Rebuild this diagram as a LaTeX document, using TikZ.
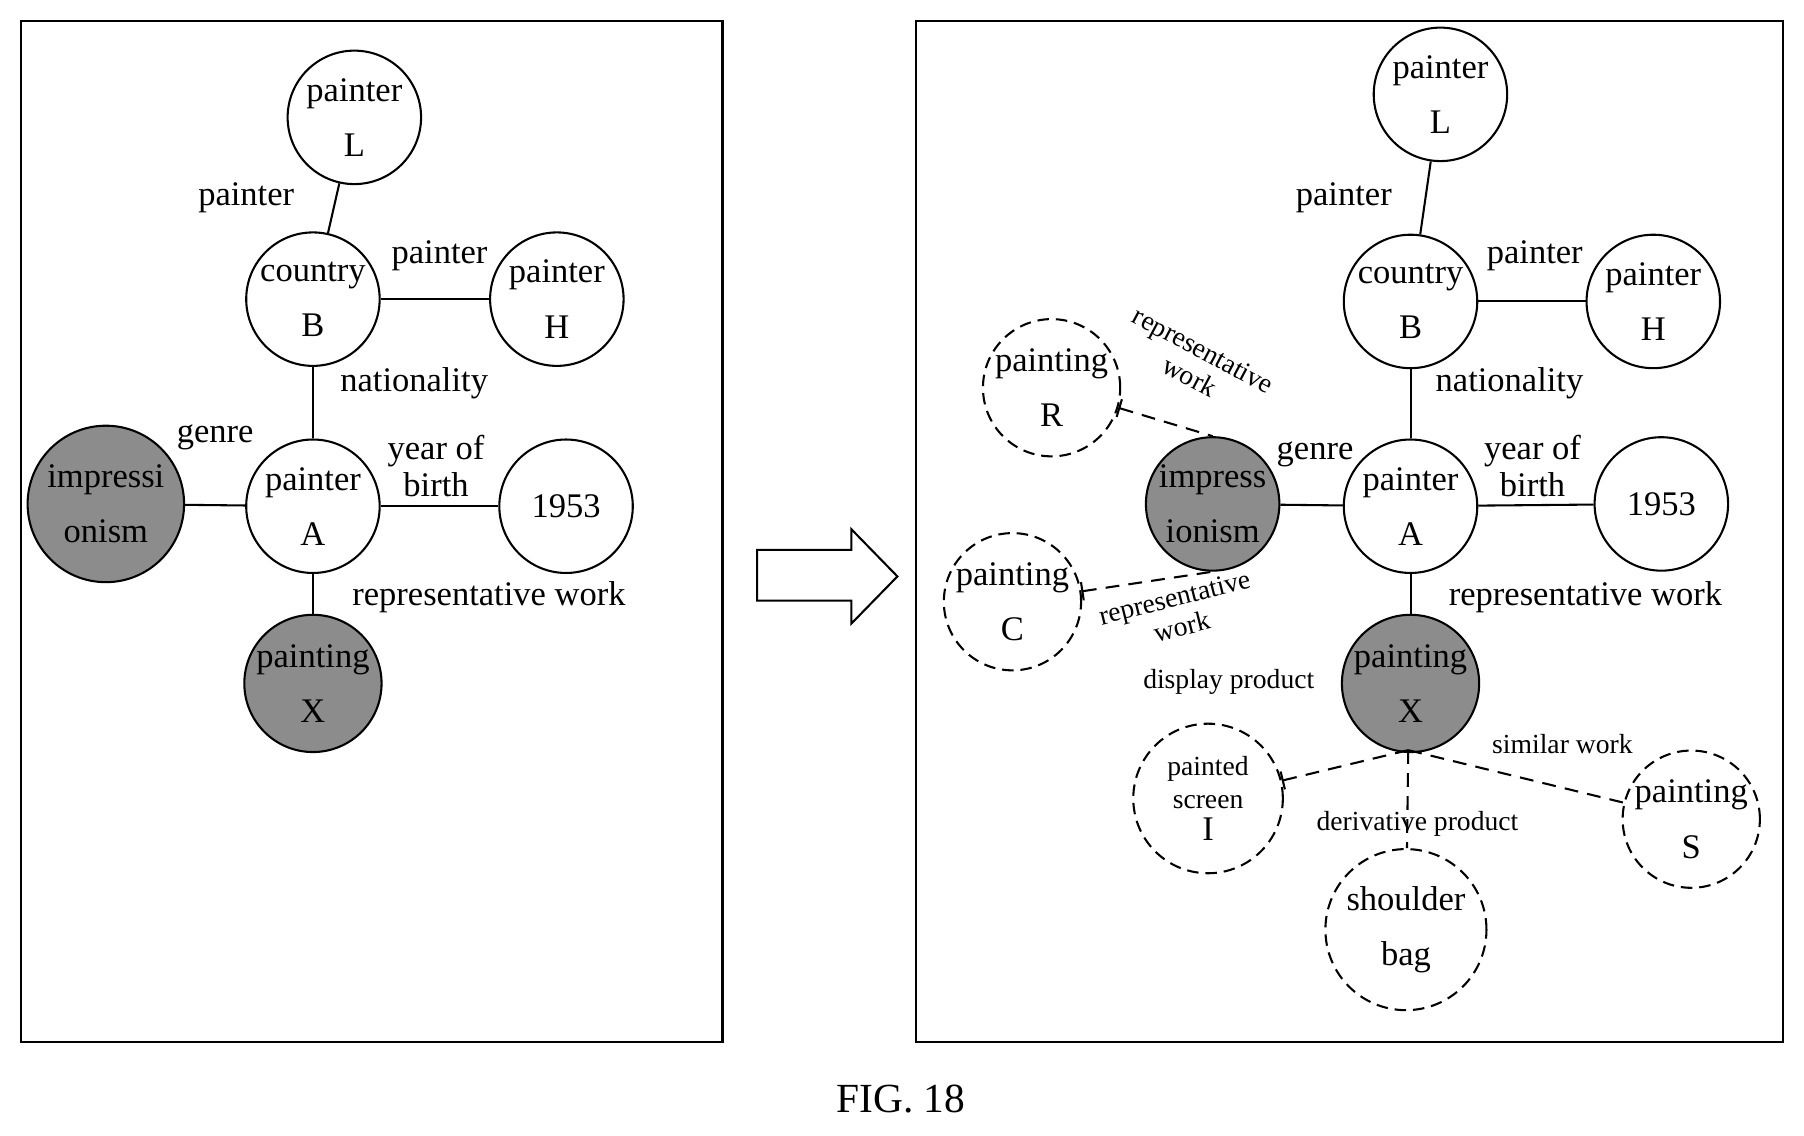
\documentclass[tikz,border=0pt]{standalone}
\usepackage{fontspec}
\setmainfont{Liberation Serif}
\usetikzlibrary{arrows.meta}
\begin{document}
\begin{tikzpicture}[x=0.5pt,y=-0.5pt,
  c/.style={circle,draw,line width=0.9pt,minimum size=58pt,inner sep=0pt,align=center,font=\fontsize{15}{24}\selectfont},
  g/.style={c,fill=black!45},
  d/.style={c,dash pattern=on 5pt off 3pt},
  lab/.style={font=\fontsize{15}{16}\selectfont,align=center},
  sl/.style={font=\fontsize{12}{13}\selectfont,align=center},
  e/.style={line width=0.9pt},
  de/.style={line width=0.9pt,dash pattern=on 6pt off 4pt}]
\useasboundingbox (0,0) rectangle (1568,987);
\node[draw,line width=0.9pt,minimum width=305pt,minimum height=444pt] (lb) at (323,462) {};
\node[draw,line width=0.9pt,minimum width=377pt,minimum height=444pt] (rb) at (1173,462) {};
% left
\node[c] (L1) at (308,102) {painter\\L};
\node[c] (B1) at (272,260) {country\\B};
\node[c] (H1) at (484,260) {painter\\H};
\node[c] (A1) at (272,440) {painter\\A};
\node[c] (N1) at (492,440) {1953};
\node[g,minimum size=68pt] (I1) at (92,438) {impressi\\onism};
\node[g] (X1) at (272,594) {painting\\X};
\draw[e] (L1)--(B1); \draw[e] (B1)--(H1); \draw[e] (B1)--(A1);
\draw[e] (A1)--(N1); \draw[e] (A1)--(I1); \draw[e] (A1)--(X1);
\node[lab] (t1) at (214,172) {painter};
\node[lab] (t2) at (382,222) {painter};
\node[lab] (t3) at (360,333) {nationality};
\node[lab] (t4) at (187,380) {genre};
\node[lab] (t5) at (379,405) {year of\\birth};
\node[lab] (t6) at (425,519) {representative work};
% arrow
\draw[line width=0.9pt] (658,478) -- (740,478) -- (740,460) -- (780,501) -- (740,542) -- (740,522) -- (658,522) -- cycle;
% right
\node[c] (L2) at (1252,82) {painter\\L};
\node[c] (B2) at (1226,262) {country\\B};
\node[c] (H2) at (1437,262) {painter\\H};
\node[c] (A2) at (1226,440) {painter\\A};
\node[c] (N2) at (1444,438) {1953};
\node[g] (I2) at (1054,438) {impress\\ionism};
\node[g] (X2) at (1226,594) {painting\\X};
\node[d] (R) at (914,337) {painting\\R};
\node[d] (C) at (880,523) {painting\\C};
\node[d,minimum size=65pt,font=\fontsize{12}{14}\selectfont] (PI) at (1050,694) {painted\\screen\\\fontsize{15}{16}\selectfont I};
\node[d,minimum size=70pt] (SB) at (1222,808) {shoulder\\bag};
\node[d] (S) at (1470,712) {painting\\S};
\draw[e] (L2)--(B2); \draw[e] (B2)--(H2); \draw[e] (B2)--(A2);
\draw[e] (A2)--(N2); \draw[e] (A2)--(I2); \draw[e] (A2)--(X2);
\coordinate (xb) at (1224,652);
\draw[de,{Bar[width=8pt]}-] (R) -- (I2.north);
\draw[de,{Bar[width=8pt]}-] (C) -- (I2.south);
\draw[de,{Bar[width=8pt]}-] (PI) -- (xb);
\draw[de] (xb) -- (SB);
\draw[de] (xb) -- (S);
\node[lab] at (1168,172) {painter};
\node[lab] at (1334,222) {painter};
\node[lab] at (1312,333) {nationality};
\node[lab] at (1143,395) {genre};
\node[lab] at (1332,405) {year of\\birth};
\node[lab] at (1378,519) {representative work};
\node[sl,rotate=-28] at (1040,316) {representative\\work};
\node[sl,rotate=14] at (1024,532) {representative\\work};
\node[sl] at (1068,593) {display product};
\node[sl] at (1358,647) {similar work};
\node[sl] at (1232,716) {derivative product};
\node[font=\fontsize{18}{20}\selectfont] (fig) at (783,955) {FIG. 18};
\end{tikzpicture}
\end{document}
